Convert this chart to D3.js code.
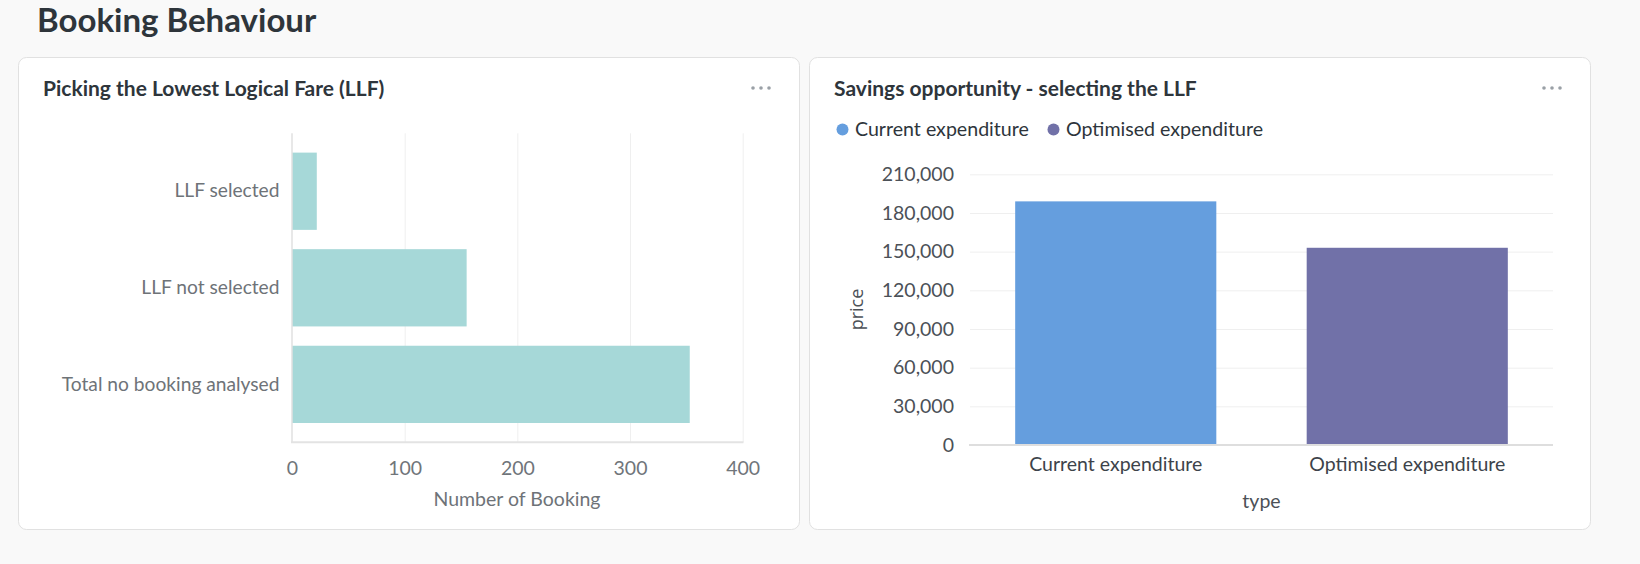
<!DOCTYPE html>
<html lang="en">
  <head>
    <meta charset="utf-8" />
    <title>Booking Behaviour</title>
    <script src="https://d3js.org/d3.v7.min.js"></script>
    <style type="text/css">
      body {
        margin: 0;
        background-color: #f9f9f9;
        font-family: Lato, "Noto Sans", sans-serif;
      }
      svg text {
        font-family: Lato, "Noto Sans", sans-serif;
      }
      .grid line {
        stroke: #efefef;
        stroke-width: 1;
      }
      .tick-label text {
        font-size: 19.5px;
      }
      .cat-label text {
        font-size: 19.2px;
      }
    </style>
  </head>
  <body>
    <script type="text/javascript">
      //Data
      var llfCategories = ["LLF selected", "LLF not selected", "Total no booking analysed"];
      var llfBookings = [22, 155, 353];
      var llfTicks = [0, 100, 200, 300, 400];

      var savingTypes = ["Current expenditure", "Optimised expenditure"];
      var savingPrices = [189000, 153000];
      var savingColors = ["#659ede", "#7171a8"];
      var priceTicks = [0, 30000, 60000, 90000, 120000, 150000, 180000, 210000];

      //Width and height
      var w = 1640;
      var h = 564;

      var svg = d3
        .select("body")
        .append("svg")
        .attr("width", w)
        .attr("height", h);

      svg.append("rect").attr("width", w).attr("height", h).attr("fill", "#f9f9f9");

      //Page heading
      svg
        .append("text")
        .attr("x", 37)
        .attr("y", 31.5)
        .attr("font-size", "33px")
        .attr("font-weight", 700)
        .attr("fill", "#2e353b")
        .text("Booking Behaviour");

      //Cards
      var cards = [
        { x: 18.5, title: "Picking the Lowest Logical Fare (LLF)" },
        { x: 809.5, title: "Savings opportunity - selecting the LLF" },
      ];
      cards.forEach(function (c) {
        svg
          .append("rect")
          .attr("x", c.x)
          .attr("y", 57.5)
          .attr("width", 781)
          .attr("height", 472)
          .attr("rx", 8)
          .attr("fill", "#fff")
          .attr("stroke", "#e1e1e1");
        svg
          .append("text")
          .attr("x", c.x + 24.5)
          .attr("y", 95.5)
          .attr("font-size", "21px")
          .attr("font-weight", 700)
          .attr("fill", "#2e353b")
          .text(c.title);
        svg
          .selectAll(null)
          .data([0, 1, 2])
          .enter()
          .append("circle")
          .attr("cx", function (d) {
            return c.x + 734.5 + d * 8;
          })
          .attr("cy", 88)
          .attr("r", 1.8)
          .attr("fill", "#9aa0a6");
      });

      //Left chart: horizontal bars
      var xL = d3.scaleLinear().domain([0, 400]).range([292, 742.7]);
      var yL = d3
        .scaleBand()
        .domain(llfCategories)
        .range([133.3, 442.3])
        .paddingInner(0.2)
        .paddingOuter(0.2);

      var gridL = svg
        .append("g")
        .attr("class", "grid")
        .attr("transform", "translate(0,442.3)")
        .call(d3.axisBottom(xL).tickValues(llfTicks.slice(1)).tickSize(-309).tickFormat(""));
      gridL.select(".domain").remove();

      svg
        .selectAll(".llf-bar")
        .data(llfBookings)
        .enter()
        .append("rect")
        .attr("class", "llf-bar")
        .attr("x", xL(0))
        .attr("y", function (d, i) {
          return yL(llfCategories[i]);
        })
        .attr("width", function (d) {
          return xL(d) - xL(0);
        })
        .attr("height", yL.bandwidth())
        .attr("fill", "#a6d8d8");

      //Axis lines
      svg
        .append("line")
        .attr("x1", 292)
        .attr("x2", 292)
        .attr("y1", 133.3)
        .attr("y2", 442.3)
        .attr("stroke", "#e0e0e0")
        .attr("stroke-width", 1.5);
      svg
        .append("line")
        .attr("x1", 291)
        .attr("x2", 743.5)
        .attr("y1", 442.3)
        .attr("y2", 442.3)
        .attr("stroke", "#e3e3e3")
        .attr("stroke-width", 2);

      var xAxisL = svg
        .append("g")
        .attr("class", "tick-label")
        .attr("transform", "translate(0,442.3)")
        .call(d3.axisBottom(xL).tickValues(llfTicks).tickSize(0).tickPadding(19));
      xAxisL.select(".domain").remove();
      xAxisL.selectAll("text").attr("fill", "#70757a");

      var yAxisL = svg
        .append("g")
        .attr("class", "cat-label")
        .attr("transform", "translate(292,0)")
        .call(d3.axisLeft(yL).tickSize(0).tickPadding(12.5));
      yAxisL.select(".domain").remove();
      yAxisL.selectAll("text").attr("fill", "#6e7378");

      svg
        .append("text")
        .attr("x", 517)
        .attr("y", 506)
        .attr("text-anchor", "middle")
        .attr("font-size", "19.5px")
        .attr("fill", "#6e7378")
        .text("Number of Booking");

      //Right chart: vertical bars
      var xR = d3
        .scaleBand()
        .domain(savingTypes)
        .range([970, 1553])
        .paddingInner(0.31)
        .paddingOuter(0.155);
      var yR = d3.scaleLinear().domain([0, 210000]).range([445, 174.3]);

      //Legend
      var legend = svg
        .selectAll(".legend")
        .data(savingTypes)
        .enter()
        .append("g")
        .attr("class", "legend")
        .attr("transform", function (d, i) {
          return "translate(" + [842.5, 1053.5][i] + ",129.5)";
        });
      legend
        .append("circle")
        .attr("r", 6)
        .attr("fill", function (d, i) {
          return savingColors[i];
        });
      legend
        .append("text")
        .attr("x", 12.5)
        .attr("y", 6.5)
        .attr("font-size", "19.6px")
        .attr("fill", "#2e353b")
        .text(function (d) {
          return d;
        });

      var gridR = svg
        .append("g")
        .attr("class", "grid")
        .attr("transform", "translate(970,0)")
        .call(d3.axisLeft(yR).tickValues(priceTicks.slice(1)).tickSize(-583).tickFormat(""));
      gridR.select(".domain").remove();
      gridR.selectAll("line").attr("stroke", "#ececec").attr("stroke-width", 1.5);

      svg
        .selectAll(".saving-bar")
        .data(savingPrices)
        .enter()
        .append("rect")
        .attr("class", "saving-bar")
        .attr("x", function (d, i) {
          return xR(savingTypes[i]);
        })
        .attr("y", function (d) {
          return yR(d);
        })
        .attr("width", xR.bandwidth())
        .attr("height", function (d) {
          return yR(0) - yR(d);
        })
        .attr("fill", function (d, i) {
          return savingColors[i];
        });

      svg
        .append("line")
        .attr("x1", 969)
        .attr("x2", 1553)
        .attr("y1", 445)
        .attr("y2", 445)
        .attr("stroke", "#dedede")
        .attr("stroke-width", 2);

      var yAxisR = svg
        .append("g")
        .attr("class", "tick-label")
        .attr("transform", "translate(970,0)")
        .call(
          d3
            .axisLeft(yR)
            .tickValues(priceTicks)
            .tickSize(0)
            .tickPadding(16)
            .tickFormat(d3.format(","))
        );
      yAxisR.select(".domain").remove();
      yAxisR.selectAll("text").attr("fill", "#4c5157");

      var xAxisR = svg
        .append("g")
        .attr("class", "tick-label")
        .attr("transform", "translate(0,445)")
        .call(d3.axisBottom(xR).tickSize(0).tickPadding(12.5));
      xAxisR.select(".domain").remove();
      xAxisR.selectAll("text").attr("fill", "#3d434a");

      svg
        .append("text")
        .attr("x", 1261.5)
        .attr("y", 508)
        .attr("text-anchor", "middle")
        .attr("font-size", "19.5px")
        .attr("fill", "#4c5157")
        .text("type");

      svg
        .append("text")
        .attr("transform", "translate(863,309.5) rotate(-90)")
        .attr("text-anchor", "middle")
        .style("font-family", "'Open Sans', sans-serif")
        .attr("font-size", "18px")
        .attr("fill", "#4c5157")
        .text("price");
    </script>
  </body>
</html>
